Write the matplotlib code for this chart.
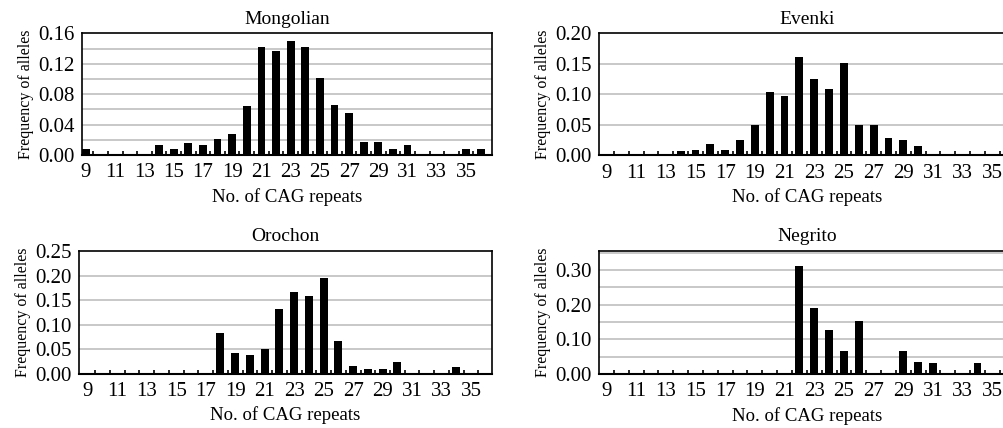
import numpy as np
import matplotlib
matplotlib.use('Agg')
import matplotlib.pyplot as plt
from matplotlib.ticker import MultipleLocator, FixedLocator

plt.rcParams['font.family'] = ['Liberation Serif', 'DejaVu Serif']

# CAG repeat categories 9..36
repeats = list(range(9, 37))
tickLabels = [str(r) for r in range(9, 37, 2)]

# allele frequencies (0 where no bar)
mongolian = [0.008, 0, 0, 0, 0, 0.013, 0.008, 0.016, 0.013, 0.021,
             0.028, 0.064, 0.142, 0.137, 0.150, 0.142, 0.101, 0.066, 0.055, 0.017,
             0.017, 0.008, 0.013, 0, 0, 0, 0.008, 0.008]
evenki = [0, 0, 0, 0, 0, 0.008, 0.009, 0.019, 0.009, 0.026,
          0.050, 0.104, 0.098, 0.161, 0.125, 0.109, 0.151, 0.050, 0.050, 0.028,
          0.025, 0.015, 0, 0, 0, 0, 0, 0]
orochon = [0, 0, 0, 0, 0, 0, 0, 0, 0, 0.082,
           0.042, 0.038, 0.050, 0.131, 0.166, 0.159, 0.195, 0.066, 0.016, 0.010,
           0.010, 0.024, 0, 0, 0, 0.014, 0, 0]
negrito = [0, 0, 0, 0, 0, 0, 0, 0, 0, 0,
           0, 0, 0, 0.311, 0.189, 0.126, 0.066, 0.154, 0, 0,
           0.066, 0.035, 0.031, 0, 0, 0.031, 0, 0]


def DrawPanel(fig, rect, title, values, xLim, yMax, labelStep, gridStep, fmt):
    ax = fig.add_axes(rect)
    ax.set_axisbelow(True)
    ax.bar(repeats, values, width=0.53, color='black', zorder=3)
    ax.set_xlim(xLim)
    ax.set_ylim(0, yMax)

    ax.xaxis.set_major_locator(FixedLocator(list(range(9, 37, 2))))
    ax.set_xticklabels(tickLabels)
    ax.xaxis.set_minor_locator(FixedLocator([r + 0.5 for r in range(9, 36)]))
    ax.tick_params(axis='x', which='major', length=0, labelsize=15, pad=6)
    ax.tick_params(axis='x', which='minor', length=3, width=1.2, direction='in', top=False)

    ax.yaxis.set_major_locator(MultipleLocator(labelStep))
    ax.tick_params(axis='y', which='major', length=0, labelsize=15, pad=5)
    ax.yaxis.set_major_formatter(matplotlib.ticker.FormatStrFormatter(fmt))
    gridLines = np.arange(gridStep, yMax - 1e-9, gridStep)
    for g in gridLines:
        ax.axhline(g, color='#c4c4c4', linewidth=1.3, zorder=1)

    for side in ax.spines.values():
        side.set_linewidth(1.2)
    ax.spines['bottom'].set_linewidth(1.5)

    ax.set_title(title, fontsize=14, pad=7)
    ax.set_xlabel('No. of CAG repeats', fontsize=13.5, labelpad=4)
    ax.set_ylabel('Frequency of alleles', fontsize=11.5, labelpad=3)
    return ax


fig = plt.figure(figsize=(10.04, 4.28), dpi=100)

DrawPanel(fig, [0.0817, 0.6379, 0.408, 0.2843], 'Mongolian', mongolian,
          (8.73, 36.75), 0.16, 0.04, 0.02, '%.2f')
DrawPanel(fig, [0.5966, 0.6367, 0.414, 0.2855], 'Evenki', evenki,
          (8.5, 36.5), 0.20, 0.05, 0.05, '%.2f')
DrawPanel(fig, [0.0785, 0.1269, 0.4113, 0.2867], 'Orochon', orochon,
          (8.4, 36.4), 0.25, 0.05, 0.05, '%.2f')
DrawPanel(fig, [0.5966, 0.1262, 0.414, 0.2874], 'Negrito', negrito,
          (8.5, 36.5), 0.355, 0.10, 0.05, '%.2f')

fig.savefig('out.png', dpi=100)
